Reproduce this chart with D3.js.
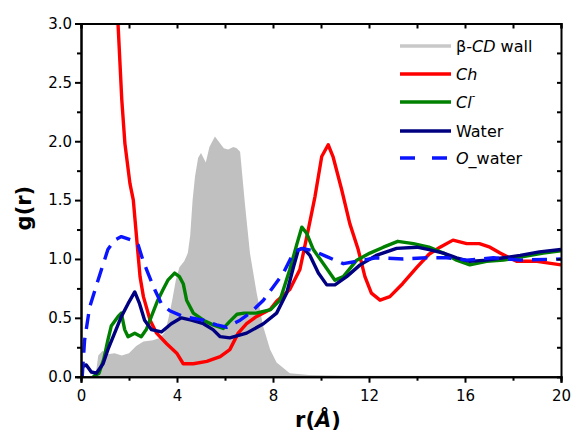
<!DOCTYPE html>
<html>
<head>
<meta charset="utf-8">
<script src="https://cdn.jsdelivr.net/npm/d3@7"></script>
<style>
  body { margin: 0; background: #fff; }
  text { font-family: "DejaVu Sans", sans-serif; }
</style>
</head>
<body>
<div id="chart"></div>
<script>
// radial distribution data
const rWall = [0, 0.6, 0.72, 0.9, 1.1, 1.4, 1.7, 2.0, 2.3, 2.6, 3.0, 3.3, 3.5, 3.65, 3.8, 3.95, 4.1, 4.3, 4.45, 4.55, 4.65, 4.75, 4.88, 5.0, 5.1, 5.2, 5.35, 5.58, 5.8, 5.95, 6.13, 6.35, 6.49, 6.63, 6.83, 7.04, 7.32, 7.6, 7.88, 8.15, 8.7, 9.5, 11, 20];
const gWall = [0, 0, 0.18, 0.22, 0.19, 0.2, 0.18, 0.2, 0.26, 0.3, 0.31, 0.33, 0.38, 0.5, 0.65, 0.82, 0.93, 0.98, 1.05, 1.2, 1.5, 1.7, 1.86, 1.90, 1.86, 1.82, 1.95, 2.04, 1.98, 1.94, 1.93, 1.95, 1.94, 1.91, 1.47, 1.05, 0.71, 0.42, 0.23, 0.12, 0.03, 0.015, 0.008, 0.006];

const rCh = [1.53, 1.7, 1.83, 2.04, 2.18, 2.36, 2.46, 2.6, 2.88, 3.15, 3.57, 3.99, 4.26, 4.68, 5.24, 5.8, 6.2, 6.55, 6.9, 7.3, 7.88, 8.15, 8.7, 9.12, 9.47, 9.75, 10.03, 10.3, 10.5, 10.86, 11.2, 11.55, 11.83, 12.1, 12.46, 12.87, 13.4, 14.0, 14.5, 14.96, 15.5, 16.07, 16.6, 17.04, 17.46, 18.15, 19, 20];
const gCh = [3.05, 2.35, 1.98, 1.64, 1.5, 1.08, 0.85, 0.68, 0.48, 0.37, 0.28, 0.2, 0.11, 0.11, 0.13, 0.17, 0.23, 0.37, 0.45, 0.51, 0.57, 0.64, 0.74, 0.91, 1.25, 1.53, 1.87, 1.97, 1.87, 1.59, 1.30, 1.08, 0.85, 0.71, 0.65, 0.68, 0.79, 0.93, 1.04, 1.10, 1.16, 1.13, 1.13, 1.10, 1.05, 0.98, 0.98, 0.95];

const rCl = [0.5, 0.75, 0.95, 1.12, 1.26, 1.54, 1.68, 1.82, 1.96, 2.24, 2.51, 2.72, 2.93, 3.2, 3.42, 3.62, 3.9, 4.1, 4.26, 4.4, 4.68, 5.1, 5.5, 5.93, 6.2, 6.5, 6.8, 7.3, 7.9, 8.29, 8.7, 9.0, 9.2, 9.4, 9.68, 10.1, 10.58, 10.93, 11.49, 12.04, 12.6, 13.2, 13.85, 14.5, 15.1, 15.65, 16.2, 16.9, 17.6, 18.43, 19.26, 20];
const gCl = [0, 0.03, 0.15, 0.31, 0.43, 0.51, 0.54, 0.40, 0.34, 0.37, 0.34, 0.40, 0.51, 0.65, 0.74, 0.82, 0.88, 0.85, 0.79, 0.65, 0.54, 0.48, 0.44, 0.41, 0.47, 0.53, 0.54, 0.54, 0.57, 0.65, 0.91, 1.13, 1.27, 1.22, 1.08, 0.96, 0.82, 0.85, 0.99, 1.05, 1.10, 1.15, 1.13, 1.10, 1.05, 0.99, 0.95, 0.98, 0.99, 1.02, 1.05, 1.07];

const rWater = [0, 0.22, 0.43, 0.64, 0.92, 1.12, 1.4, 1.68, 1.96, 2.24, 2.44, 2.65, 2.93, 3.35, 3.76, 4.18, 4.6, 5.1, 5.5, 5.8, 6.2, 6.9, 7.6, 8.15, 8.57, 8.85, 9.06, 9.27, 9.54, 9.89, 10.24, 10.58, 11.07, 11.63, 12.3, 13.15, 14.0, 14.5, 15.1, 15.65, 16.2, 16.9, 17.6, 18.3, 19.1, 20];
const gWater = [0.08, 0.10, 0.04, 0.03, 0.11, 0.23, 0.37, 0.51, 0.62, 0.72, 0.62, 0.48, 0.40, 0.38, 0.45, 0.50, 0.48, 0.45, 0.40, 0.34, 0.33, 0.37, 0.45, 0.54, 0.71, 0.93, 1.08, 1.09, 1.03, 0.88, 0.78, 0.78, 0.85, 0.95, 1.03, 1.09, 1.10, 1.08, 1.05, 1.01, 0.98, 0.99, 1.01, 1.03, 1.06, 1.08];

const rOw = [0.05, 0.15, 0.36, 0.71, 1.12, 1.4, 1.68, 2.1, 2.38, 2.58, 2.79, 3.07, 3.35, 3.7, 4.26, 5.1, 5.65, 6.07, 6.63, 7.04, 7.6, 8.0, 8.43, 8.85, 9.2, 9.68, 10.24, 10.93, 11.49, 12.3, 13.43, 14.4, 15.24, 16.07, 17.18, 18.3, 20];
const gOw = [0, 0.31, 0.59, 0.82, 1.08, 1.16, 1.19, 1.16, 1.12, 0.99, 0.88, 0.74, 0.62, 0.56, 0.51, 0.48, 0.44, 0.42, 0.48, 0.54, 0.65, 0.76, 0.88, 1.05, 1.09, 1.07, 1.02, 0.96, 0.98, 1.01, 1.0, 1.01, 1.01, 0.99, 1.01, 0.99, 1.0];

const xTicks = [0, 4, 8, 12, 16, 20];
const yTicks = [0, 0.5, 1.0, 1.5, 2.0, 2.5, 3.0];

const zip = (xs, ys) => xs.map((r, i) => ({ r: r, g: ys[i] }));

const width = 571, height = 433;
const margin = { top: 23.5, right: 10, bottom: 56.3, left: 81 };
const w = width - margin.left - margin.right;
const h = height - margin.top - margin.bottom;

const svg = d3.select("#chart").append("svg")
    .attr("width", width)
    .attr("height", height);

const g = svg.append("g")
    .attr("transform", "translate(" + margin.left + "," + margin.top + ")");

const x = d3.scaleLinear().domain([0, 20]).range([0, w]);
const y = d3.scaleLinear().domain([0, 3]).range([h, 0]);

svg.append("defs").append("clipPath").attr("id", "clip")
    .append("rect").attr("width", w).attr("height", h);

const plot = g.append("g").attr("clip-path", "url(#clip)");

// wall as a filled area
plot.append("path")
    .datum(zip(rWall, gWall))
    .attr("fill", "#c0c0c0")
    .attr("d", d3.area().x(d => x(d.r)).y0(h).y1(d => y(d.g)));

const line = d3.line().x(d => x(d.r)).y(d => y(d.g));

const series = [
    { data: zip(rCh, gCh), color: "#ff0000", dash: null },
    { data: zip(rCl, gCl), color: "#008000", dash: null },
    { data: zip(rWater, gWater), color: "#000080", dash: null },
    { data: zip(rOw, gOw), color: "#0a14ff", dash: "15,9" }
];

series.forEach(s => {
    plot.append("path")
        .datum(s.data)
        .attr("fill", "none")
        .attr("stroke", s.color)
        .attr("stroke-width", 3.4)
        .attr("stroke-linejoin", "round")
        .attr("stroke-dasharray", s.dash)
        .attr("d", line);
});

// axes
const xAxis = g.append("g")
    .attr("transform", "translate(0," + h + ")")
    .call(d3.axisBottom(x).tickValues(xTicks).tickSize(6).tickFormat(d3.format("d")));
g.append("g")
    .attr("transform", "translate(0," + h + ")")
    .call(d3.axisBottom(x).tickValues(d3.range(2, 20, 4)).tickSize(4).tickFormat(""));

g.append("g")
    .call(d3.axisLeft(y).tickValues(yTicks).tickSize(6).tickFormat(d3.format(".1f")));
g.append("g")
    .call(d3.axisLeft(y).tickValues(d3.range(0.25, 3, 0.5)).tickSize(4).tickFormat(""));

g.append("g")
    .call(d3.axisTop(x).tickValues(d3.range(0, 21, 2)).tickSize(-5).tickFormat(""));
g.append("g")
    .attr("transform", "translate(" + w + ",0)")
    .call(d3.axisRight(y).tickValues(d3.range(0, 3.01, 0.25)).tickSize(-4).tickFormat(""));

g.selectAll(".domain").attr("stroke", "#000").attr("stroke-width", 2);
g.selectAll(".tick line").attr("stroke", "#000").attr("stroke-width", 2);
g.selectAll(".tick text")
    .attr("font-family", "DejaVu Sans, sans-serif")
    .attr("font-size", 15)
    .attr("fill", "#000");
xAxis.selectAll(".tick text").attr("dy", "1.05em");

// axis titles
svg.append("text")
    .attr("transform", "translate(31," + (margin.top + h / 2 + 8) + ") rotate(-90)")
    .attr("text-anchor", "middle")
    .attr("font-size", 21)
    .attr("font-weight", "bold")
    .text("g(r)");

const xt = svg.append("text")
    .attr("x", 318)
    .attr("y", 427)
    .attr("text-anchor", "middle")
    .attr("font-size", 21)
    .attr("font-weight", "bold");
xt.append("tspan").text("r(");
xt.append("tspan").attr("font-style", "italic").text("Å");
xt.append("tspan").text(")");

// legend
const legend = svg.append("g");
const legendRows = [
    { color: "#c8c8c8", dash: null, y: 46, parts: [["β", "normal"], ["-CD", "italic"], [" wall", "normal"]] },
    { color: "#ff0000", dash: null, y: 74, parts: [["Ch", "italic"]] },
    { color: "#008000", dash: null, y: 102, parts: [["Cl", "italic"]], sup: "-" },
    { color: "#000080", dash: null, y: 131, parts: [["Water", "normal"]] },
    { color: "#0a14ff", dash: "15,17", y: 158, parts: [["O", "italic"], ["_water", "normal"]] }
];

legendRows.forEach(row => {
    legend.append("line")
        .attr("x1", 400).attr("x2", 451)
        .attr("y1", row.y).attr("y2", row.y)
        .attr("stroke", row.color)
        .attr("stroke-width", 3.4)
        .attr("stroke-dasharray", row.dash);
    const t = legend.append("text")
        .attr("x", 456)
        .attr("y", row.y + 6)
        .attr("font-size", 16)
        .attr("fill", "#000");
    row.parts.forEach(p => {
        t.append("tspan").attr("font-style", p[1]).text(p[0]);
    });
    if (row.sup) {
        t.append("tspan").attr("font-size", 10).attr("dy", -9).text(row.sup);
    }
});
</script>
</body>
</html>
